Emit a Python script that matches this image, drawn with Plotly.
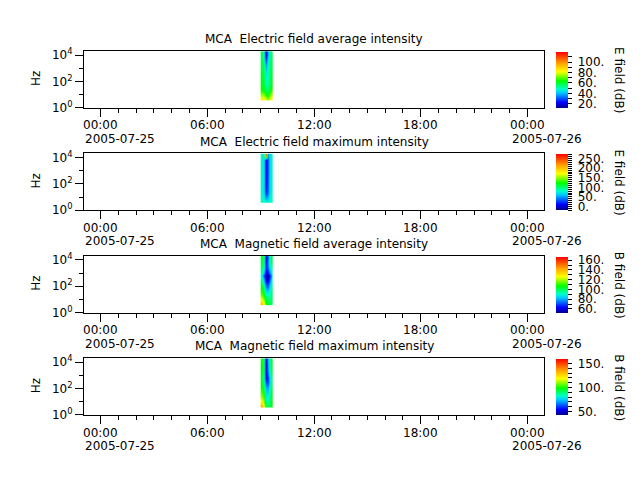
import plotly.graph_objects as go

# ---------------- data ----------------
time_edges = ["2005-07-25 09:00", "2005-07-25 09:07", "2005-07-25 09:13",
              "2005-07-25 09:20", "2005-07-25 09:27", "2005-07-25 09:33",
              "2005-07-25 09:40"]
freq_edges = [3.5, 6.5, 12, 22, 40, 74, 135, 250, 460, 850, 1560, 2880, 5300, 9800, 19000]

titles = ["MCA  Electric field average intensity",
          "MCA  Electric field maximum intensity",
          "MCA  Magnetic field average intensity",
          "MCA  Magnetic field maximum intensity"]
cbar_titles = ["E field (dB)", "E field (dB)", "B field (dB)", "B field (dB)"]

# rows: low frequency -> high frequency ; columns: time
e_avg = [
    [84, 85, 78, 72, 80, 86],
    [76, 74, 66, 64, 72, 78],
    [68, 66, 58, 58, 64, 70],
    [64, 62, 54, 55, 60, 66],
    [62, 60, 50, 52, 58, 63],
    [62, 60, 48, 51, 58, 62],
    [61, 58, 46, 50, 57, 61],
    [61, 58, 44, 49, 57, 61],
    [60, 57, 42, 48, 57, 60],
    [59, 56, 38, 47, 56, 59],
    [59, 55, 34, 46, 56, 59],
    [58, 52, 28, 44, 55, 58],
    [57, 50, 20, 40, 54, 57],
    [57, 48, 16, 38, 52, 57],
]
e_max = [
    [82, 82, 74, 72, 82, 82],
    [78, 76, 45, 55, 76, 78],
    [75, 72, 22, 40, 72, 75],
    [74, 70, 14, 34, 70, 74],
    [74, 70, 10, 32, 70, 74],
    [74, 70, 8, 30, 70, 74],
    [74, 70, 8, 30, 70, 74],
    [74, 69, 6, 29, 69, 74],
    [74, 69, 6, 29, 69, 74],
    [74, 69, 5, 28, 69, 74],
    [74, 68, 5, 28, 68, 74],
    [74, 68, 5, 28, 68, 74],
    [74, 68, 5, 28, 68, 74],
    [75, 70, 240, 45, 70, 75],
]
b_avg = [
    [138, 128, 110, 105, 100, 100],
    [128, 118, 105, 100, 98, 100],
    [120, 110, 98, 95, 95, 100],
    [112, 105, 90, 88, 92, 100],
    [108, 100, 82, 80, 90, 98],
    [105, 95, 75, 72, 85, 98],
    [100, 88, 68, 65, 80, 95],
    [95, 80, 60, 60, 72, 90],
    [88, 70, 56, 56, 65, 85],
    [95, 85, 62, 65, 80, 92],
    [98, 90, 66, 72, 88, 95],
    [100, 95, 65, 75, 92, 98],
    [102, 95, 62, 75, 95, 100],
    [105, 98, 60, 72, 95, 102],
]
b_max = [
    [132, 120, 95, 90, 95, 100],
    [122, 110, 88, 85, 92, 98],
    [115, 105, 82, 80, 90, 98],
    [108, 100, 78, 78, 88, 96],
    [104, 96, 75, 74, 86, 95],
    [100, 92, 72, 70, 84, 94],
    [98, 88, 66, 64, 80, 92],
    [96, 85, 60, 60, 78, 90],
    [95, 84, 52, 58, 78, 90],
    [96, 86, 50, 62, 82, 92],
    [97, 88, 48, 66, 85, 94],
    [98, 88, 47, 68, 86, 95],
    [98, 86, 46, 68, 86, 95],
    [100, 88, 48, 70, 88, 96],
]
z_ranges = [(12, 119), (-21, 272), (52, 167), (42, 159)]
cbar_tickvals = [
    [20, 30, 40, 50, 60, 70, 80, 90, 100, 110],
    [-20, -10, 0, 10, 20, 30, 40, 50, 60, 70, 80, 90, 100, 110, 120, 130, 140,
     150, 160, 170, 180, 190, 200, 210, 220, 230, 240, 250, 260, 270],
    [60, 70, 80, 90, 100, 110, 120, 130, 140, 150, 160],
    [50, 60, 70, 80, 90, 100, 110, 120, 130, 140, 150],
]
cbar_labels = [
    {20: "20.", 40: "40.", 60: "60.", 80: "80.", 100: "100."},
    {0: "0.", 50: "50.", 100: "100.", 150: "150.", 200: "200.", 250: "250."},
    {60: "60.", 80: "80.", 100: "100.", 120: "120.", 140: "140.", 160: "160."},
    {50: "50.", 100: "100.", 150: "150."},
]
x_tick_major = ["2005-07-25 00:00", "2005-07-25 06:00", "2005-07-25 12:00",
                "2005-07-25 18:00", "2005-07-26 00:00"]
x_tick_text = ["00:00", "06:00", "12:00", "18:00", "00:00"]
date_labels = [("2005-07-25 00:00", "2005-07-25"), ("2005-07-26 00:00", "2005-07-26")]
y_tickvals = [1, 100, 10000]
y_ticktext = ["10<sup>0</sup>", "10<sup>2</sup>", "10<sup>4</sup>"]

# ---------------- style ----------------
W, H = 640, 480
FONT = "DejaVu Sans"
colorscale = [
    [0.0, "rgb(0,0,140)"], [0.1, "rgb(0,0,255)"], [0.27, "rgb(0,200,255)"],
    [0.34, "rgb(0,255,200)"], [0.48, "rgb(0,255,0)"], [0.65, "rgb(255,255,0)"],
    [0.8, "rgb(255,160,0)"], [1.0, "rgb(255,0,0)"],
]
px_left, px_right = 84, 544
panel_tops = [47, 152, 257, 362]
panel_h = 58.5
NB = "\u00a0"

def py(p):
    return 1 - p / H

fig = go.Figure()
datasets = [e_avg, e_max, b_avg, b_max]
layout = dict(
    width=W, height=H, margin=dict(l=0, r=0, t=0, b=0),
    paper_bgcolor="white", plot_bgcolor="white",
    font=dict(family=FONT, size=12, color="black"),
    showlegend=False,
)
annotations = []
tf = dict(family=FONT, size=12, color="black")
for i in range(4):
    top = panel_tops[i]
    bot = top + panel_h
    sfx = "" if i == 0 else str(i + 1)
    zmin, zmax = z_ranges[i]
    tv = cbar_tickvals[i]
    tt = [(NB + cbar_labels[i][v]) if v in cbar_labels[i] else "" for v in tv]
    fig.add_trace(go.Heatmap(
        x=time_edges, y=freq_edges, z=datasets[i],
        xaxis="x" + sfx, yaxis="y" + sfx,
        zmin=zmin, zmax=zmax, colorscale=colorscale, zsmooth="best",
        colorbar=dict(
            x=556 / W, xanchor="left", xpad=0, ypad=0,
            y=py(top + 30), yanchor="middle",
            thickness=12, thicknessmode="pixels",
            len=56, lenmode="pixels", outlinewidth=0,
            ticks="outside", ticklen=4, tickcolor="black",
            tickvals=tv, ticktext=tt, tickfont=tf,
        ),
        hoverinfo="skip",
    ))
    layout["xaxis" + sfx] = dict(
        domain=[px_left / W, px_right / W], anchor="y" + sfx,
        type="date", range=["2005-07-24 23:04", "2005-07-26 00:56"],
        tickmode="array", tickvals=x_tick_major, showticklabels=False,
        ticks="outside", ticklen=8, tickwidth=1, tickcolor="black",
        minor=dict(dtick=3600000, tick0="2005-07-25 00:00", ticks="outside",
                   ticklen=4, tickwidth=1, tickcolor="black"),
        showline=True, linecolor="black", linewidth=1, mirror=True,
        showgrid=False, zeroline=False,
    )
    layout["yaxis" + sfx] = dict(
        domain=[py(bot), py(top)], anchor="x" + sfx,
        type="log", range=[0, 4.32],
        tickmode="array", tickvals=y_tickvals, ticktext=y_ticktext,
        ticks="outside", ticklen=8, tickwidth=1, tickcolor="black",
        minor=dict(tickmode="array", tickvals=[10, 1000], ticks="outside",
                   ticklen=4, tickwidth=1, tickcolor="black"),
        showline=True, linecolor="black", linewidth=1, mirror=True,
        showgrid=False, zeroline=False,
        tickfont=tf,
    )
    annotations.append(dict(
        text=titles[i], xref="paper", yref="paper",
        x=(px_left + px_right) / 2 / W, y=py(top - 12),
        xanchor="center", yanchor="middle", showarrow=False, font=tf,
    ))
    annotations.append(dict(
        text="Hz", xref="paper", yref="paper", x=36 / W, y=py(top + 29),
        xanchor="center", yanchor="middle", textangle=-90, showarrow=False,
        font=tf,
    ))
    annotations.append(dict(
        text=cbar_titles[i], xref="paper", yref="paper", x=619 / W, y=py(top + 30),
        xanchor="center", yanchor="middle", textangle=90, showarrow=False,
        font=tf,
    ))
    for xv, lab in zip(x_tick_major, x_tick_text):
        annotations.append(dict(
            text=lab, xref="x" + sfx, yref="paper", x=xv, y=py(bot + 18),
            xanchor="center", yanchor="middle", showarrow=False, font=tf,
        ))
    for xv, lab in date_labels:
        annotations.append(dict(
            text=lab, xref="x" + sfx, yref="paper", x=xv, y=py(bot + 32),
            xanchor="left", yanchor="middle", xshift=-17.5, showarrow=False,
            font=tf,
        ))
layout["annotations"] = annotations
fig.update_layout(**layout)
fig.write_html("out.html")
